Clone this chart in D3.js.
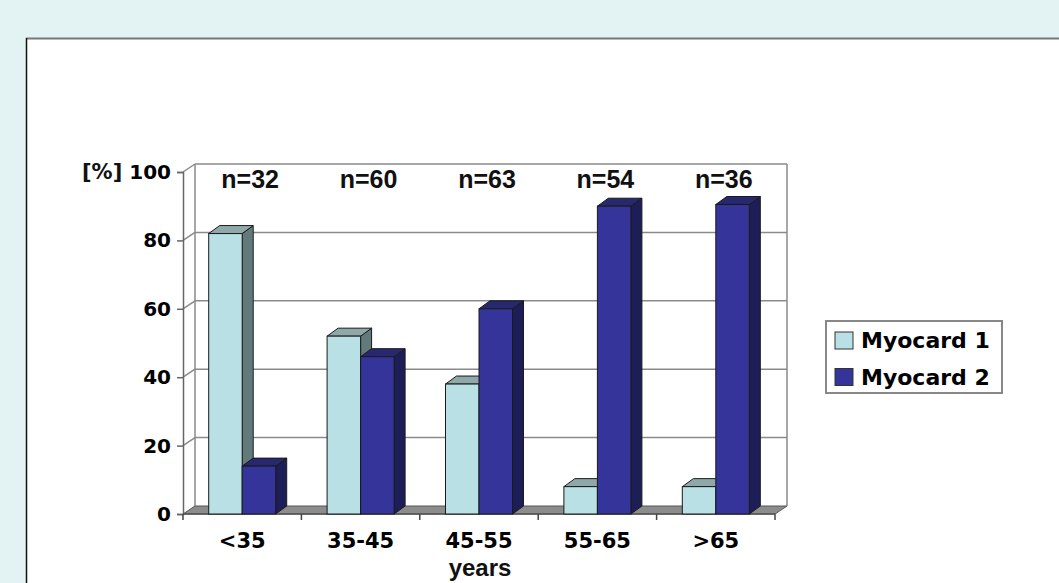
<!DOCTYPE html>
<html>
<head>
<meta charset="utf-8">
<script src="https://cdn.jsdelivr.net/npm/d3@7"></script>
<style>
  html, body { margin: 0; padding: 0; background: #e3f3f3; overflow: hidden; }
  svg { display: block; }
</style>
</head>
<body>
<svg id="chart" width="1059" height="583"></svg>
<script>
// Age groups and share of each myocard type per group (%)
const categories = ["<35", "35-45", "45-55", "55-65", ">65"];
const groupSizes = ["n=32", "n=60", "n=63", "n=54", "n=36"];
const seriesNames = ["Myocard 1", "Myocard 2"];
const myocard1 = [82, 52, 38, 8, 8];
const myocard2 = [14, 46, 60, 90, 90.5];
const yTicks = [0, 20, 40, 60, 80, 100];

const svg = d3.select("#chart");

// white slide panel
svg.append("rect").attr("x", 26).attr("y", 38).attr("width", 1100).attr("height", 600)
  .attr("fill", "#ffffff");
svg.append("line").attr("x1", 26).attr("x2", 1059).attr("y1", 38.5).attr("y2", 38.5)
  .attr("stroke", "#777").attr("stroke-width", 2);
svg.append("line").attr("x1", 26.5).attr("x2", 26.5).attr("y1", 38).attr("y2", 583)
  .attr("stroke", "#111").attr("stroke-width", 1.5);

// plot geometry (front plane) and pseudo-3D depth offsets
const plotL = 183, plotR = 775, plotT = 172, plotB = 514;
const WDX = 12, WDY = -8;   // back wall offset
const BDX = 11, BDY = -8;   // bar depth

const x = d3.scaleBand().domain(categories).range([plotL, plotR]).paddingInner(0).paddingOuter(0);
const xs = d3.scaleBand().domain(seriesNames).range([0, x.bandwidth()]).paddingInner(0).paddingOuter(0.767);
const y = d3.scaleLinear().domain([0, 100]).range([plotB, plotT]);

const gridColor = "#8a8a8a";

// back wall gridlines (and wall top edge at 100)
const grid = svg.append("g");
yTicks.filter(t => t > 0).forEach(t => {
  const yf = y(t);
  grid.append("line").attr("x1", plotL).attr("y1", yf).attr("x2", plotL + WDX).attr("y2", yf + WDY)
    .attr("stroke", gridColor).attr("stroke-width", 1.5);
  grid.append("line").attr("x1", plotL + WDX).attr("y1", yf + WDY).attr("x2", plotR + WDX).attr("y2", yf + WDY)
    .attr("stroke", gridColor).attr("stroke-width", 1.5);
});
// wall edges
grid.append("line").attr("x1", plotL + WDX).attr("x2", plotL + WDX)
  .attr("y1", y(100) + WDY).attr("y2", y(0) + WDY).attr("stroke", gridColor).attr("stroke-width", 1.5);
grid.append("line").attr("x1", plotR + WDX).attr("x2", plotR + WDX)
  .attr("y1", y(100) + WDY).attr("y2", y(0) + WDY).attr("stroke", gridColor).attr("stroke-width", 1.5);

// floor
svg.append("path")
  .attr("d", `M${plotL},${plotB}L${plotR},${plotB}L${plotR + WDX},${plotB + WDY}L${plotL + WDX},${plotB + WDY}Z`)
  .attr("fill", "#8c8c8c").attr("stroke", "#555").attr("stroke-width", 1);

// y axis
const yAxis = svg.append("g").attr("transform", `translate(${plotL},0)`)
  .call(d3.axisLeft(y).tickValues(yTicks).tickSize(6).tickPadding(6));
yAxis.select(".domain").attr("stroke", "#666").attr("stroke-width", 1.5);
yAxis.selectAll(".tick line").attr("stroke", "#666").attr("stroke-width", 1.5);
yAxis.selectAll(".tick text")
  .attr("font-family", "DejaVu Sans").attr("font-weight", "bold").attr("font-size", 20)
  .attr("fill", "#000");

svg.append("text").attr("x", 82).attr("y", y(100)).attr("dy", "0.35em")
  .attr("font-family", "DejaVu Sans").attr("font-weight", "bold").attr("font-size", 21)
  .attr("fill", "#111").text("[%]");

// front x axis line with group separator ticks
svg.append("line").attr("x1", plotL).attr("x2", plotR).attr("y1", plotB).attr("y2", plotB)
  .attr("stroke", "#555").attr("stroke-width", 1.5);
d3.range(categories.length + 1).forEach(i => {
  const xi = plotL + i * x.step();
  svg.append("line").attr("x1", xi).attr("x2", xi).attr("y1", plotB).attr("y2", plotB + 6)
    .attr("stroke", "#444").attr("stroke-width", 1.5);
});

const xAxis = svg.append("g").attr("transform", `translate(0,${plotB})`)
  .call(d3.axisBottom(x).tickSize(0).tickPadding(19));
xAxis.select(".domain").remove();
xAxis.selectAll(".tick text")
  .attr("font-family", "DejaVu Sans").attr("font-weight", "bold").attr("font-size", 21)
  .attr("fill", "#000");

svg.append("text").attr("x", 480).attr("y", 576).attr("text-anchor", "middle")
  .attr("font-family", "Liberation Sans").attr("font-weight", "bold").attr("font-size", 24)
  .attr("fill", "#111").text("years");

// bars
const palette = [
  { front: "#b9e0e4", top: "#8fa9aa", side: "#617b7d" },
  { front: "#34349b", top: "#28286f", side: "#1d1d58" }
];
const rows = categories.map((c, i) => ({ cat: c, vals: [myocard1[i], myocard2[i]] }));
const barsG = svg.append("g");
rows.forEach(r => {
  r.vals.forEach((v, s) => {
    const x0 = x(r.cat) + xs(seriesNames[s]);
    const x1 = x0 + xs.bandwidth();
    const y0 = y(0), y1 = y(v);
    const col = palette[s];
    const g = barsG.append("g");
    g.append("path")
      .attr("d", `M${x1},${y0}L${x1 + BDX},${y0 + BDY}L${x1 + BDX},${y1 + BDY}L${x1},${y1}Z`)
      .attr("fill", col.side).attr("stroke", "#1a1a1a").attr("stroke-width", 1).attr("stroke-linejoin", "round");
    g.append("path")
      .attr("d", `M${x0},${y1}L${x0 + BDX},${y1 + BDY}L${x1 + BDX},${y1 + BDY}L${x1},${y1}Z`)
      .attr("fill", col.top).attr("stroke", "#1a1a1a").attr("stroke-width", 1).attr("stroke-linejoin", "round");
    g.append("rect").attr("x", x0).attr("y", y1).attr("width", x1 - x0).attr("height", y0 - y1)
      .attr("fill", col.front).attr("stroke", "#1a1a1a").attr("stroke-width", 1);
  });
});

// group sizes above the bars
svg.append("g").selectAll("text").data(categories).join("text")
  .attr("x", d => x(d) + x.bandwidth() / 2 + 8)
  .attr("y", 188)
  .attr("text-anchor", "middle")
  .attr("font-family", "Liberation Sans").attr("font-weight", "bold").attr("font-size", 25)
  .attr("fill", "#111")
  .text((d, i) => groupSizes[i]);

// legend
const lg = svg.append("g").attr("transform", "translate(826,321)");
lg.append("rect").attr("x", 0).attr("y", 0).attr("width", 176).attr("height", 72)
  .attr("fill", "#fff").attr("stroke", "#888").attr("stroke-width", 2);
seriesNames.forEach((name, i) => {
  const cy = 19.5 + i * 36.5;
  lg.append("rect").attr("x", 9).attr("y", cy - 8.5).attr("width", 18).attr("height", 17)
    .attr("fill", palette[i].front).attr("stroke", "#333").attr("stroke-width", 1);
  lg.append("text").attr("x", 35).attr("y", cy).attr("dy", "0.36em")
    .attr("font-family", "DejaVu Sans").attr("font-weight", "bold").attr("font-size", 22)
    .attr("fill", "#000").text(name);
});
</script>
</body>
</html>
